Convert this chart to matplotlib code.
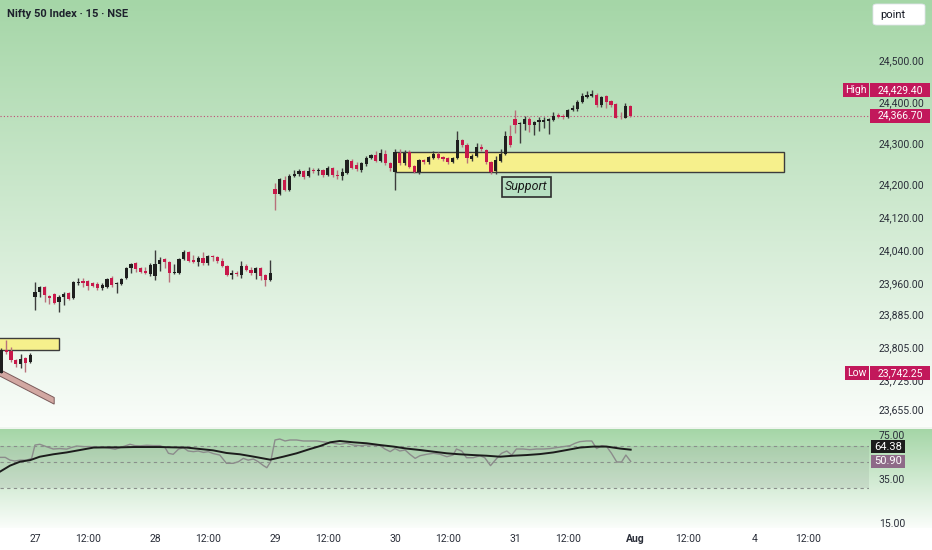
import numpy as np
import matplotlib
matplotlib.use('Agg')
from matplotlib import pyplot as plt
from matplotlib.patches import Rectangle, Polygon, FancyBboxPatch

plt.rcParams['font.family'] = ['Roboto', 'DejaVu Sans']

# ---- data: Nifty 50, 15 min candles (bar 0 = first bar of the 27th) ----
bars = np.arange(-7, 125)
opens = [23743, 23800, 23797, 23775, 23765, 23779, 23770,
         23927, 23940, 23952, 23930, 23935, 23915, 23927, 23937, 23925, 23962,
         23966, 23966, 23961, 23959, 23949, 23952, 23974, 23959, 23959, 23974,
         23998, 24010, 23998, 23990, 23983,
         23978, 24007, 24019, 24012, 23986, 23986, 24019, 24036, 24017, 24012,
         24022, 24010, 24027, 24024, 24015, 24002, 23981, 23985, 23981, 24002,
         23993, 23986, 23998, 23981, 23969,
         24189, 24177, 24211, 24187, 24221, 24225, 24233, 24221, 24235, 24233,
         24235, 24223, 24240, 24223, 24220, 24228, 24257, 24247, 24235, 24250,
         24264, 24271, 24257, 24274, 24252,
         24230, 24276, 24252, 24279, 24245, 24230, 24259, 24254, 24264, 24274,
         24266, 24264, 24254, 24264, 24308, 24296, 24262, 24269, 24291, 24284,
         24255, 24233, 24257, 24274, 24317,
         24359, 24346, 24346, 24359, 24344, 24351, 24352, 24354, 24356, 24368,
         24366, 24363, 24380, 24383, 24400, 24412, 24414, 24417, 24392, 24414,
         24402, 24395, 24362, 24361, 24390]
highs = [23803, 23823, 23806, 23778, 23790, 23782, 23793,
         23964, 23954, 23954, 23932, 23937, 23932, 23940, 23940, 23966, 23974,
         23974, 23969, 23964, 23964, 23961, 23974, 23978, 23964, 23974, 24000,
         24010, 24012, 24000, 23999, 24010,
         24041, 24025, 24022, 24015, 24007, 24022, 24041, 24039, 24029, 24026,
         24036, 24029, 24029, 24027, 24022, 24005, 23993, 23990, 24014, 24007,
         24000, 24000, 24000, 23983, 24017,
         24204, 24216, 24221, 24225, 24235, 24238, 24235, 24243, 24240, 24240,
         24238, 24245, 24243, 24235, 24240, 24262, 24262, 24254, 24254, 24269,
         24274, 24281, 24286, 24283, 24254,
         24286, 24286, 24283, 24283, 24247, 24262, 24262, 24269, 24281, 24279,
         24269, 24266, 24266, 24330, 24310, 24300, 24274, 24300, 24298, 24286,
         24257, 24269, 24286, 24330, 24344,
         24380, 24352, 24366, 24363, 24354, 24363, 24363, 24360, 24375, 24373,
         24371, 24382, 24392, 24405, 24422, 24426, 24429.4, 24422, 24415, 24417,
         24405, 24398, 24375, 24398, 24393]
lows = [23742.25, 23790, 23770, 23757, 23756, 23746, 23768,
        23896, 23927, 23915, 23911, 23911, 23891, 23908, 23920, 23923, 23956,
        23952, 23944, 23952, 23944, 23944, 23949, 23952, 23937, 23956, 23971,
        23986, 23988, 23986, 23984, 23978,
        23969, 23990, 23998, 23964, 23983, 23983, 24017, 24012, 24010, 24002,
        24005, 24005, 24014, 24010, 24000, 23978, 23971, 23978, 23973, 23990,
        23981, 23971, 23969, 23954, 23966,
        24138, 24175, 24184, 24184, 24218, 24221, 24213, 24218, 24228, 24223,
        24218, 24221, 24218, 24213, 24211, 24225, 24238, 24233, 24230, 24245,
        24262, 24255, 24254, 24247, 24233,
        24187, 24247, 24247, 24240, 24228, 24225, 24250, 24250, 24262, 24262,
        24257, 24250, 24252, 24262, 24291, 24252, 24257, 24266, 24281, 24250,
        24225, 24225, 24254, 24271, 24291,
        24325, 24301, 24332, 24327, 24320, 24330, 24337, 24322, 24354, 24361,
        24358, 24361, 24378, 24378, 24398, 24409, 24411, 24387, 24388, 24385,
        24388, 24360, 24358, 24360, 24363]
closes = [23799, 23795, 23775, 23765, 23777, 23768, 23786,
          23940, 23952, 23932, 23925, 23913, 23927, 23935, 23923, 23964, 23964,
          23961, 23954, 23954, 23949, 23956, 23971, 23956, 23961, 23971, 23998,
          24007, 23995, 23988, 23986, 24005,
          24007, 24017, 24012, 23986, 23988, 24019, 24036, 24015, 24012, 24022,
          24010, 24026, 24024, 24015, 24002, 23981, 23985, 23983, 24002, 23993,
          23986, 23998, 23979, 23969, 23986,
          24177, 24214, 24187, 24221, 24225, 24233, 24218, 24233, 24233, 24235,
          24223, 24240, 24223, 24220, 24230, 24259, 24240, 24237, 24252, 24264,
          24271, 24257, 24276, 24252, 24240,
          24279, 24252, 24276, 24243, 24230, 24259, 24255, 24266, 24274, 24264,
          24262, 24254, 24264, 24308, 24296, 24264, 24269, 24291, 24286, 24255,
          24230, 24259, 24274, 24317, 24296,
          24344, 24350, 24359, 24344, 24352, 24356, 24356, 24358, 24366, 24364,
          24363, 24380, 24385, 24400, 24414, 24417, 24419, 24392, 24412, 24400,
          24392, 24361, 24360, 24390, 24366.7]

last_price = 24366.70
day_high = 24429.40
day_low = 23742.25

# drawn zones
support_zone = (75, 156, 24229.5, 24279)      # bar from, bar to, price low, price high
left_zone = (-10, 5.1, 23799, 23827)
channel = [(-8, 23756), (4.0, 23684), (4.0, 23668), (-8, 23740)]
support_label = (102.4, 24194, 'Support')

price_ticks = [24500, 24400, 24300, 24200, 24120, 24040, 23960, 23885, 23805, 23725, 23655]

# RSI (grey) and its moving average (black)
rsi_x = [-7.3, -6.2, -5.2, -4.2, -3.1, -1.7, -0.7, 0, 1, 2.4, 3.8, 5.2, 6.6, 7.6, 8.7,
         10.1, 11.5, 12.8, 14.2, 15.6, 16.7, 17.7, 18.7, 19.8, 20.8, 21.9, 23.3, 24.6,
         26, 27.1, 27.8, 28.8, 29.9, 30.9, 31.9, 33, 34, 35.1, 36.1, 37.1, 38.5, 39.9,
         41.3, 42.4, 43.4, 44.4, 45.5, 46.5, 47.6, 48.3, 49.1, 50, 51, 52.1, 53.1, 54.5,
         55.9, 57.3, 58.7, 60.8, 62.2, 63.5, 64.9, 66.3, 67.7, 69.1, 70.5, 71.9, 72.9,
         74, 75, 76, 77.1, 78.1, 79.2, 80.2, 81.6, 83, 84.4, 85.8, 87.1, 87.8, 88.9,
         89.9, 91.3, 92.7, 93.7, 94.9, 96.2, 97.2, 98.3, 99.3, 100.3, 101.7, 103.1,
         104.5, 105.9, 107.3, 108.7, 110.1, 111.5, 112.5, 113.5, 114.9, 116, 117,
         118.1, 119.1, 120.1, 121.2, 122.2, 123.1, 124.1]
rsi = [54.5, 54.5, 52, 51.2, 52, 52, 53.6, 65.7, 66.4, 64.2, 62.1, 62.5, 62, 63.5, 64.8,
       64.3, 64.3, 63.6, 63.6, 62.8, 61.8, 63.4, 64.8, 66.4, 65.2, 65, 65.5, 65.2,
       65.2, 63.4, 58.2, 57.3, 62, 63.4, 60.3, 59.7, 60.3, 59, 59.7, 58, 56.6, 49.1,
       49.1, 50.6, 53.6, 52, 53, 50.6, 47, 45.1, 50.6, 70.3, 71.2, 69.4, 70.3, 70.3,
       69.4, 69.4, 69.4, 68.2, 67.3, 66.4, 67.3, 65.7, 65.2, 65.7, 65.7, 65.2, 62.1,
       59.7, 62.5, 60.3, 61.2, 57.3, 53.6, 56, 57.3, 58.2, 57.3, 55.1, 56.6, 62.1, 60.3,
       54.2, 54.2, 56, 54.2, 47, 53.6, 58.2, 60.3, 56.6, 62.1, 62.1, 61.5,
       62.1, 62.1, 62.5, 63.4, 64.3, 65.2, 67.3, 68.8, 69.4, 69.4, 62.5,
       65.2, 64.3, 58.2, 50.3, 50.3, 56.6, 50.9]
ma_x = [-7.3, -5.2, -3.1, -1, 1, 3.8, 6.6, 9.4, 12.2, 14.9, 17.7, 20.5, 23.3, 26, 28.8,
        31.6, 34.4, 37.1, 39.9, 42.7, 45.5, 49, 51.7, 54.5, 57.3, 59.4, 61.5, 63.5,
        66.3, 69.1, 71.9, 74.7, 77.4, 80.2, 83, 85.8, 88.5, 91.3, 94.1, 96.9, 99.6,
        102.4, 105.2, 108, 110.8, 113.5, 116.3, 119.1, 121.9, 124.1]
rsi_ma = [41.5, 47, 50.6, 52, 55.1, 57.3, 59, 61.2, 63.4, 63.6, 63.6, 63.9, 63.9, 63.9,
          63.6, 63.4, 62.1, 60.9, 58.5, 57.3, 55.2, 52.4, 55.1, 58.2, 62.1, 64.8, 68.2,
          69.4, 68.2, 67.3, 65.7, 64.3, 62.5, 61.2, 59.7, 58.2, 57.3, 56.6, 56, 55.1,
          56, 56.6, 57.5, 59, 61.2, 63.4, 64.3, 64.3, 62.5, 61.5]
rsi_last = 50.90
rsi_ma_last = 64.38
rsi_ticks = [75, 35, -5]
rsi_tick_labels = ['75.00', '35.00', '15.00']

date_ticks = [0, 11, 25, 36, 50, 61, 75, 86, 100, 111, 125, 136, 150, 161]
date_labels = ['27', '12:00', '28', '12:00', '29', '12:00', '30', '12:00',
               '31', '12:00', 'Aug', '12:00', '4', '12:00']

# ---- style ----
W, H = 932, 550
PLOT_W = 869
MAIN_H = 427
RSI_TOP, RSI_BOT = 428, 528
UP, DOWN = '#1f1f1f', '#c8194b'
WICK_UP, WICK_DOWN = '#3c3c3c', '#b8707b'
TAG = '#c2185b'
TXT = '#2a2e39'

fig = plt.figure(figsize=(W / 100, H / 100), dpi=100)

# background gradients (both panes)
top = np.array([165, 214, 167]) / 255
bot = np.array([250, 253, 250]) / 255
grad = np.ones((H, 1, 3))
t = np.linspace(0, 1, MAIN_H)[:, None]
grad[:MAIN_H, 0, :] = top + (bot - top) * t
t = np.linspace(0, 1, RSI_BOT - RSI_TOP - 1)[:, None]
grad[RSI_TOP + 1:RSI_BOT, 0, :] = top + (bot - top) * t
bg = fig.add_axes([0, 0, 1, 1], zorder=-10)
bg.imshow(grad, aspect='auto', extent=(0, W, H, 0))
bg.set_xlim(0, W)
bg.set_ylim(H, 0)
bg.axis('off')

ax = fig.add_axes([0, 1 - MAIN_H / H, PLOT_W / W, MAIN_H / H])
ax2 = fig.add_axes([0, 1 - RSI_BOT / H, PLOT_W / W, (RSI_BOT - RSI_TOP) / H])
for a in (ax, ax2):
    a.set_facecolor('none')
    for s in a.spines.values():
        s.set_visible(False)
    a.set_xlim(-7.29, 173.75)

ax.set_ylim(23612.6, 24646.8)
ax2.set_ylim(-9.7, 81.2)

# ---- candles ----
o = np.array(opens, float)
h = np.array(highs, float)
l = np.array(lows, float)
c = np.array(closes, float)
up = c >= o
body_lo = np.minimum(o, c)
body_h = np.maximum(np.abs(c - o), 1.6)

ax.vlines(bars[up], l[up], h[up], color=WICK_UP, lw=1, zorder=3)
ax.vlines(bars[~up], l[~up], h[~up], color=WICK_DOWN, lw=1, zorder=3)
ax.bar(bars[up], body_h[up], bottom=body_lo[up], width=0.66, color=UP, lw=0, zorder=4)
ax.bar(bars[~up], body_h[~up], bottom=body_lo[~up], width=0.66, color=DOWN, lw=0, zorder=4)

# zones and drawings
for x0, x1, y0, y1 in (support_zone, left_zone):
    ax.add_patch(Rectangle((x0, y0), x1 - x0, y1 - y0, facecolor='#f6f08c',
                           edgecolor='#3c3c3c', lw=1, zorder=2))
ax.add_patch(Polygon(channel, closed=True, facecolor='#d2a8a2', edgecolor='#7a5a5a',
                     lw=0.7, zorder=2))
sx, sy, stxt = support_label
ax.text(sx, sy, stxt, ha='center', va='center', fontsize=9, style='italic',
        color='#1b1b1b', zorder=6,
        bbox=dict(boxstyle='square,pad=0.28', facecolor='#b7e0c2', edgecolor='#2e2e2e', lw=1.2))

ax.axhline(last_price, color=TAG, lw=0.8, ls=(0, (1, 2)), alpha=0.75, zorder=1)

# price axis
ax.yaxis.tick_right()
ax.set_yticks(price_ticks)
ax.set_yticklabels([f'{v:,.2f}' for v in price_ticks])
ax.tick_params(axis='y', length=0, pad=7, labelsize=7.5, labelcolor=TXT)
ax.tick_params(axis='x', bottom=False, labelbottom=False)


def tag(a, y, text, x0, x1, face, color='white', hpx=14, size=7.5):
    # box drawn beside the price scale, x in pixels, y in data units
    y0, y1 = a.get_ylim()
    ppx = (y1 - y0) / (a.get_position().height * H)
    tr = a.get_yaxis_transform()
    a.add_patch(Rectangle((x0 / PLOT_W, y - hpx / 2 * ppx), (x1 - x0) / PLOT_W, hpx * ppx,
                          transform=tr, facecolor=face, edgecolor='none',
                          clip_on=False, zorder=10))
    a.text((x0 + x1) / 2 / PLOT_W, y, text, transform=tr, ha='center', va='center',
           fontsize=size, color=color, clip_on=False, zorder=11)


tag(ax, day_high, 'High', 843, 869, TAG)
tag(ax, day_high, f'{day_high:,.2f}', 870, 930, TAG)
tag(ax, last_price, f'{last_price:,.2f}', 870, 930, TAG)
tag(ax, day_low, 'Low', 845, 869, TAG)
tag(ax, day_low, f'{day_low:,.2f}', 870, 930, TAG)

# ---- RSI pane ----
ax2.axhspan(27, 65, color='#7d8a80', alpha=0.17, lw=0, zorder=1)
for lvl in (65, 50, 27):
    ax2.axhline(lvl, color='#8a8f8c', lw=0.8, ls=(0, (3, 3)), zorder=1)
ax2.plot(rsi_x, rsi, color='#8c8c8c', lw=1, zorder=3)
ax2.plot(ma_x, rsi_ma, color='#1c1c1c', lw=1.4, zorder=4)

ax2.yaxis.tick_right()
ax2.set_yticks(rsi_ticks)
ax2.set_yticklabels(rsi_tick_labels)
ax2.tick_params(axis='y', length=0, pad=7, labelsize=7.5, labelcolor=TXT)
tag(ax2, rsi_ma_last, f'{rsi_ma_last:.2f}', 871, 905, '#1c1c1c', hpx=13, size=8)
tag(ax2, rsi_last, f'{rsi_last:.2f}', 871, 905, '#8e6a88', hpx=13, size=8)

ax2.set_xticks(date_ticks)
ax2.set_xticklabels(date_labels)
ax2.tick_params(axis='x', length=0, pad=4, labelsize=7.5, labelcolor=TXT)
ax2.get_xticklabels()[10].set_fontweight('bold')

# divider between panes
fig.add_artist(plt.Line2D([0, 1], [1 - (MAIN_H + 0.5) / H] * 2, color='#eef3ee', lw=1.2))

# title and interval button
fig.text(7 / W, 1 - 14 / H, 'Nifty 50 Index \u00b7 15 \u00b7 NSE', fontsize=8,
         fontweight='bold', color='#1e222d', va='center', ha='left')
fig.add_artist(FancyBboxPatch((873 / W, 1 - 25 / H), 52 / W, 21 / H,
                              boxstyle='round,pad=0,rounding_size=0.004',
                              transform=fig.transFigure, facecolor='white',
                              edgecolor='#e0e3eb', lw=0.6))
fig.text(880 / W, 1 - 14.5 / H, 'point', fontsize=8, color='#131722', va='center', ha='left')

fig.savefig('out.png', dpi=100)
